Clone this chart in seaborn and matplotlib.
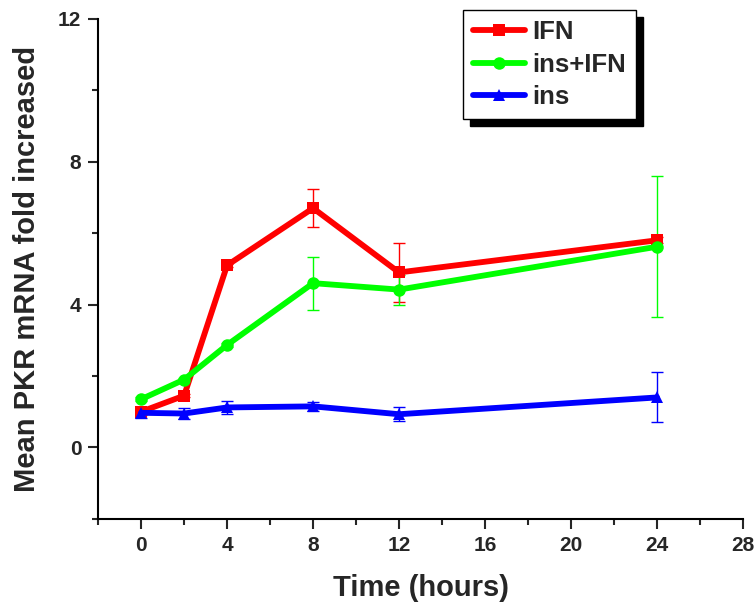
import matplotlib
matplotlib.use("Agg")
import matplotlib.pyplot as plt
import seaborn as sns
import pandas as pd
from matplotlib.ticker import MultipleLocator
from matplotlib.lines import Line2D

time = [0, 2, 4, 8, 12, 24]
groups = ["IFN", "ins+IFN", "ins"]
ifn = [1.0, 1.45, 5.1, 6.7, 4.9, 5.8]
ifn_err = [0.1, 0.05, 0.05, 0.53, 0.82, 0.08]
ins_ifn = [1.35, 1.9, 2.87, 4.6, 4.42, 5.62]
ins_ifn_err = [0.05, 0.05, 0.05, 0.74, 0.42, 1.97]
ins = [0.97, 0.95, 1.12, 1.15, 0.93, 1.4]
ins_err = [0.15, 0.15, 0.18, 0.12, 0.2, 0.7]

colors = {"IFN": "#ff0000", "ins+IFN": "#00ff00", "ins": "#0000ff"}
markers = {"IFN": "s", "ins+IFN": "o", "ins": "^"}

values = {"IFN": ifn, "ins+IFN": ins_ifn, "ins": ins}
errors = {"IFN": ifn_err, "ins+IFN": ins_ifn_err, "ins": ins_err}

rows = []
for g in groups:
    for t, v, e in zip(time, values[g], errors[g]):
        rows.append({"time": t, "value": v, "err": e, "group": g})
df = pd.DataFrame(rows)

sns.set_style("white")
plt.rcParams["font.family"] = ["Liberation Sans", "DejaVu Sans"]
plt.rcParams["font.weight"] = "bold"

fig = plt.figure(figsize=(7.55, 6.09), dpi=100)
ax = fig.add_axes([0.130, 0.148, 0.854, 0.821])

for g in groups:
    sub = df[df.group == g]
    ax.errorbar(sub.time, sub.value, yerr=sub.err, fmt="none",
                ecolor=colors[g], elinewidth=1, capsize=4, capthick=1, zorder=1)

sns.lineplot(data=df, x="time", y="value", hue="group", style="group",
             hue_order=groups, style_order=groups, palette=colors,
             markers=markers, dashes=False, linewidth=4.2, markersize=9,
             markeredgewidth=0, ax=ax, legend=False, zorder=2)

ax.set_xlim(-2, 28)
ax.set_ylim(-2, 12)
ax.xaxis.set_major_locator(MultipleLocator(4))
ax.xaxis.set_minor_locator(MultipleLocator(2))
ax.yaxis.set_major_locator(MultipleLocator(4))
ax.yaxis.set_minor_locator(MultipleLocator(2))
ax.tick_params(which="major", direction="out", length=7, width=1.5,
               labelsize=15, left=True, bottom=True, pad=5)
ax.tick_params(which="minor", direction="out", length=4, width=1.5,
               left=True, bottom=True)
for lab in ax.get_xticklabels() + ax.get_yticklabels():
    lab.set_fontweight("bold")

for s in ["top", "right"]:
    ax.spines[s].set_visible(False)
for s in ["left", "bottom"]:
    ax.spines[s].set_linewidth(1.5)
    ax.spines[s].set_color("black")

ax.set_xlabel("Time (hours)", fontsize=21, fontweight="bold", labelpad=14)
ax.set_ylabel("Mean PKR mRNA fold increased", fontsize=21, fontweight="bold", labelpad=12)

handles = [Line2D([0], [0], color=colors[g], marker=markers[g], lw=4.2,
                  markersize=9, markeredgewidth=0) for g in groups]
leg = fig.legend(handles, groups, loc="upper left",
                 bbox_to_anchor=(463 / 755, 1 - 10 / 609),
                 prop={"size": 18.5, "weight": "bold"},
                 frameon=True, fancybox=False,
                 shadow={"color": "black", "alpha": 1, "ox": 5, "oy": -5},
                 handlelength=2.0, handletextpad=0.3, labelspacing=0.32,
                 borderpad=0.4, borderaxespad=0)
leg.get_frame().set_edgecolor("black")
leg.get_frame().set_linewidth(1)

fig.savefig("out.png", dpi=100)
